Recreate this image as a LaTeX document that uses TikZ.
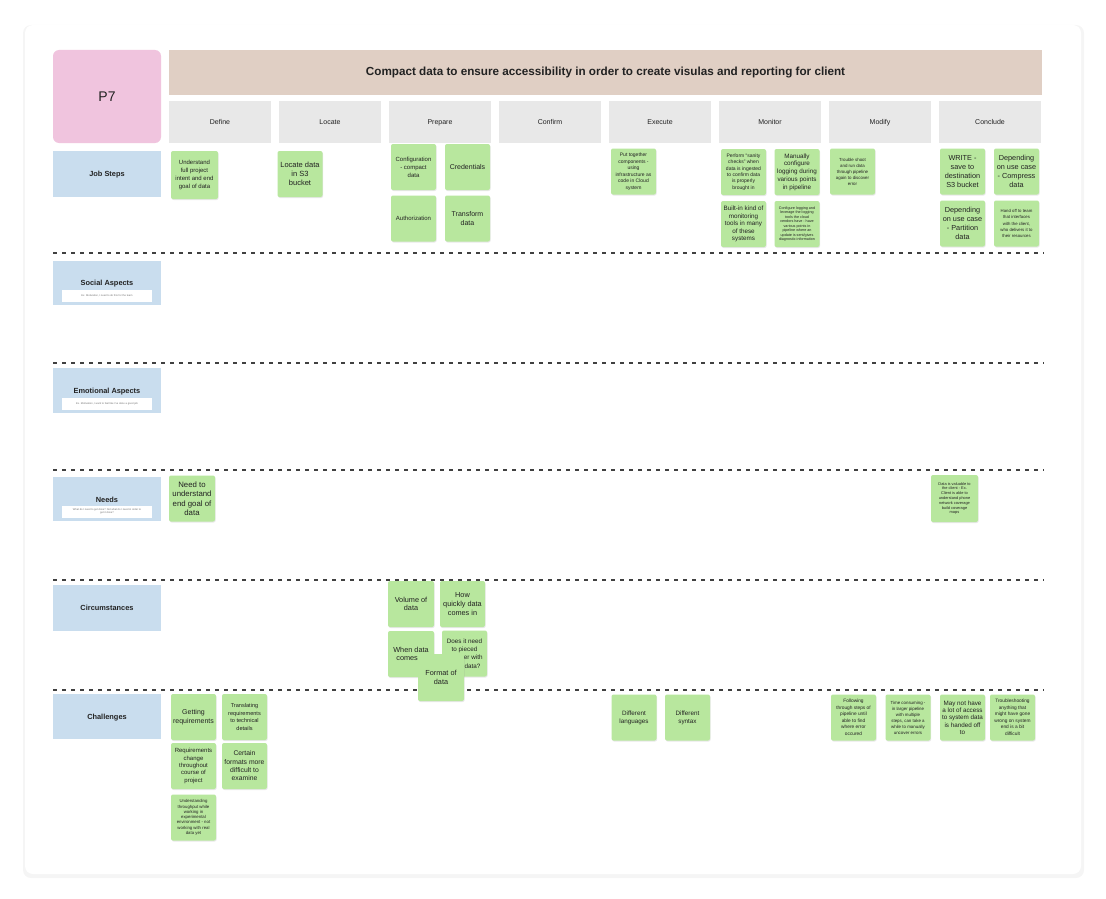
\documentclass[tikz,border=0pt]{standalone}
\usepackage{fontspec}
\setmainfont{Liberation Sans}
\setsansfont{Liberation Sans}
\usetikzlibrary{shadows}
\definecolor{stickyg}{RGB}{184,231,158}
\definecolor{laneblue}{RGB}{201,221,238}
\definecolor{hdrgray}{RGB}{232,232,232}
\definecolor{titlebg}{RGB}{224,207,196}
\definecolor{pinkbg}{RGB}{240,196,222}
\definecolor{inkc}{RGB}{34,34,34}
\newcommand{\setsz}[2]{\fontsize{#1}{#2}\selectfont}
\tikzset{
  sticky/.style={fill=stickyg, rounded corners=2pt, minimum width=45pt, minimum height=46pt,
    align=center, inner sep=0.5pt, text=inkc,
    drop shadow={opacity=0.18, shadow xshift=0.6pt, shadow yshift=-1pt}},
  phase/.style={fill=hdrgray, minimum width=102pt, minimum height=42pt, text=inkc, font=\setsz{7}{8}, text height=5pt, text depth=0pt},
  lane/.style={fill=laneblue, minimum width=108pt, text=inkc},
  lanetitle/.style={text=inkc, font=\bfseries\setsz{7.4}{8}, text height=5.5pt, text depth=0pt},
  subbox/.style={fill=white, minimum width=90pt, minimum height=12pt, inner sep=0.5pt, align=center, text=black!55, font=\setsz{2.6}{3.1}},
  sep/.style={draw=black!75, line width=1.3pt, dash pattern=on 3.5pt off 5.5pt}
}
\begin{document}
\begin{tikzpicture}[x=1pt,y=-1pt]
\useasboundingbox (0,0) rectangle (1106,899);
% card
\fill[black!4, rounded corners=8pt] (23,25) rectangle (1084,878);
\fill[white, rounded corners=8pt] (25,25) rectangle (1081,874);
% header
\node[fill=pinkbg, rounded corners=6pt, minimum width=108pt, minimum height=93pt, text=inkc, font=\setsz{14}{16}] (p7) at (107,96.5) {P7};
\node[fill=titlebg, minimum width=873pt, minimum height=45pt, text=inkc, font=\bfseries\setsz{11.7}{13}, text height=8.5pt, text depth=2.5pt] (title) at (605.5,72.5) {Compact data to ensure accessibility in order to create visulas and reporting for client};
\node[phase] (ph1) at (220,122) {Define};
\node[phase] (ph2) at (330,122) {Locate};
\node[phase] (ph3) at (440,122) {Prepare};
\node[phase] (ph4) at (550,122) {Confirm};
\node[phase] (ph5) at (660,122) {Execute};
\node[phase] (ph6) at (770,122) {Monitor};
\node[phase] (ph7) at (880,122) {Modify};
\node[phase] (ph8) at (990,122) {Conclude};
% lanes
\node[lane, minimum height=46pt] (l1) at (107,174) {};
\node[lanetitle] (l1t) at (107,174) {Job Steps};
\node[lane, minimum height=44pt] (l2) at (107,283) {};
\node[lanetitle] (l2t) at (107,282.5) {Social Aspects};
\node[subbox] (l2s) at (107,295.5) {Ex. Motivation, I need to do this for the team};
\node[lane, minimum height=45pt] (l3) at (107,390.5) {};
\node[lanetitle] (l3t) at (107,391) {Emotional Aspects};
\node[subbox] (l3s) at (107,404) {Ex. Motivation, I want to feel like I've done a good job};
\node[lane, minimum height=44pt] (l4) at (107,499) {};
\node[lanetitle] (l4t) at (107,500) {Needs};
\node[subbox] (l4s) at (107,511.5) {What do I need to get done? Not what do I need in order to\\get it done?};
\node[lane, minimum height=46pt] (l5) at (107,608) {};
\node[lanetitle] (l5t) at (107,608) {Circumstances};
\node[lane, minimum height=45pt] (l6) at (107,716.5) {};
\node[lanetitle] (l6t) at (107,716.5) {Challenges};
% separators
\coordinate (s1a) at (53,253); \coordinate (s1b) at (1044,253);
\coordinate (s2a) at (53,363); \coordinate (s2b) at (1044,363);
\coordinate (s3a) at (53,470); \coordinate (s3b) at (1044,470);
\coordinate (s4a) at (53,580); \coordinate (s4b) at (1044,580);
\coordinate (s5a) at (53,690); \coordinate (s5b) at (1044,690);
\draw[sep] (s1a) -- (s1b);
\draw[sep] (s2a) -- (s2b);
\draw[sep] (s3a) -- (s3b);
\draw[sep] (s4a) -- (s4b);
\draw[sep] (s5a) -- (s5b);
% Job steps
\node[sticky, minimum width=47pt, minimum height=48pt, font=\setsz{6}{8}] (js1) at (194.5,175) {Understand\\full project\\intent and end\\goal of data};
\node[sticky, font=\setsz{7.5}{9}] (js2) at (300,174) {Locate data\\in S3\\bucket};
\node[sticky, font=\setsz{6}{8}] (js3) at (413.5,167) {Configuration\\- compact\\data};
\node[sticky, font=\setsz{7}{8}] (js4) at (467.5,167) {Credentials};
\node[sticky, font=\setsz{6}{8}] (js5) at (413.5,218.5) {Authorization};
\node[sticky, font=\setsz{7}{9}] (js6) at (467.5,218.5) {Transform\\data};
\node[sticky, font=\setsz{5}{6.5}] (js7) at (633.5,171.5) {Put together\\components -\\using\\infrastructure as\\code in Cloud\\system};
\node[sticky, font=\setsz{5}{6.4}] (js8) at (743.5,172) {Perform ``sanity\\checks'' when\\data is ingested\\to confirm data\\is properly\\brought in};
\node[sticky, font=\setsz{6.3}{7.7}] (js9) at (797,172) {Manually\\configure\\logging during\\various points\\in pipeline};
\node[sticky, font=\setsz{6.3}{7.6}] (js10) at (743.5,224) {Built-in kind of\\monitoring\\tools in many\\of these\\systems};
\node[sticky, font=\setsz{3.7}{4.5}] (js11) at (797,224) {Configure logging and\\leverage the logging\\tools the cloud\\vendors have - have\\various points in\\pipeline where an\\update is sent/gives\\diagnostic information};
\node[sticky, font=\setsz{4.4}{6}] (js12) at (852.5,171.5) {Trouble shoot\\and run data\\through pipeline\\again to discover\\error};
\node[sticky, font=\setsz{7.3}{9}] (js13) at (962.5,171.5) {WRITE -\\save to\\destination\\S3 bucket};
\node[sticky, font=\setsz{7.3}{9}] (js14) at (1016.5,171.5) {Depending\\on use case\\- Compress\\data};
\node[sticky, font=\setsz{7.3}{9}] (js15) at (962.5,223.5) {Depending\\on use case\\- Partition\\data};
\node[sticky, font=\setsz{4.3}{6.2}] (js16) at (1016.5,223.5) {Hand off to team\\that interfaces\\with the client,\\who delivers it to\\their resources};
% Needs
\node[sticky, minimum width=46pt, font=\setsz{7.8}{9.5}] (n1) at (192,498.5) {Need to\\understand\\end goal of\\data};
\node[sticky, minimum width=47pt, minimum height=47pt, font=\setsz{3.9}{4.8}] (n2) at (954.5,498.5) {Data is valuable to\\the client - Ex.\\Client is able to\\understand phone\\network coverage\\build coverage\\maps};
% Circumstances
\node[sticky, minimum width=46pt, font=\setsz{7.3}{8.6}] (c1) at (411,604) {Volume of\\data};
\node[sticky, font=\setsz{7.3}{8.6}] (c2) at (462.5,604) {How\\quickly data\\comes in};
\node[sticky, minimum width=46pt, font=\setsz{7.3}{8.6}] (c3) at (411,654) {When data\\comes in};
\node[sticky, font=\setsz{6.3}{8.3}] (c4) at (464.5,653.5) {Does it need\\to pieced\\together with\\other data?};
\node[sticky, minimum width=46pt, minimum height=47pt, font=\setsz{7.3}{8.8}] (c5) at (441,677.5) {Format of\\data};
% Challenges
\node[sticky, font=\setsz{7}{8.5}] (ch1) at (193.5,717) {Getting\\requirements};
\node[sticky, font=\setsz{5.6}{7.4}] (ch2) at (244.5,717) {Translating\\requirements\\to technical\\details};
\node[sticky, font=\setsz{6}{7.3}] (ch3) at (193.5,766) {Requirements\\change\\throughout\\course of\\project};
\node[sticky, font=\setsz{6.8}{8.3}] (ch4) at (244.5,766) {Certain\\formats more\\difficult to\\examine};
\node[sticky, font=\setsz{4.3}{5.3}] (ch5) at (193.5,817.5) {Understanding\\throughput while\\working in\\experimental\\environment - not\\working with real\\data yet};
\node[sticky, font=\setsz{6.3}{8}] (ch6) at (634,717.5) {Different\\languages};
\node[sticky, font=\setsz{6.3}{8}] (ch7) at (687.5,717.5) {Different\\syntax};
\node[sticky, font=\setsz{4.8}{6.5}] (ch8) at (853.5,717.5) {Following\\through steps of\\pipeline until\\able to find\\where error\\occured};
\node[sticky, font=\setsz{4.4}{6}] (ch9) at (908,717.5) {Time consuming -\\in larger pipeline\\with multiple\\steps, can take a\\while to manually\\uncover errors};
\node[sticky, font=\setsz{6.3}{7.3}] (ch10) at (962.5,717.5) {May not have\\a lot of access\\to system data\\is handed off\\to};
\node[sticky, font=\setsz{4.8}{6.5}] (ch11) at (1012.5,717.5) {Troubleshooting\\anything that\\might have gone\\wrong on system\\end is a bit\\difficult};
\end{tikzpicture}
\end{document}
